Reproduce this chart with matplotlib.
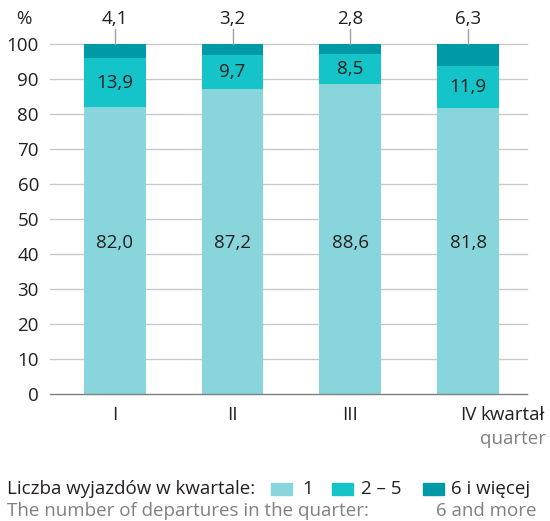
import matplotlib
matplotlib.use("Agg")
import matplotlib.pyplot as plt
from matplotlib.patches import Rectangle

quarters = ["I", "II", "III", "IV"]
share_1 = [82.0, 87.2, 88.6, 81.8]
share_2_5 = [13.9, 9.7, 8.5, 11.9]
share_6plus = [4.1, 3.2, 2.8, 6.3]
yticks = [0, 10, 20, 30, 40, 50, 60, 70, 80, 90, 100]
legend_labels = ["1", "2 – 5", "6 i więcej"]

c1, c2, c3 = "#88d6db", "#14c4c9", "#0099a8"
txt = "#231f20"
grey = "#808080"

plt.rcParams['font.family'] = ['Open Sans', 'DejaVu Sans']
fs = 13.5

def fmt(v):
    return f"{v:.1f}".replace(".", ",")

fig = plt.figure(figsize=(5.5, 5.21), dpi=100)
W, H = 550, 521
ax = fig.add_axes([50 / W, (H - 394) / H, (527 - 50) / W, (394 - 44) / H])
x = list(range(len(quarters)))
bw = 0.525
ax.bar(x, share_1, width=bw, color=c1, zorder=2)
ax.bar(x, share_2_5, width=bw, bottom=share_1, color=c2, zorder=2)
b2 = [a + b for a, b in zip(share_1, share_2_5)]
ax.bar(x, share_6plus, width=bw, bottom=b2, color=c3, zorder=2)

ax.set_xlim(-0.55, 3.5)
ax.set_ylim(0, 100)
for s in ax.spines.values():
    s.set_visible(False)
for yv in yticks[1:]:
    ax.axhline(yv, color="#c8c8c8", lw=1, zorder=1, clip_on=False)
ax.axhline(0, color="#7f7f7f", lw=1, zorder=3, clip_on=False)
ax.set_yticks(yticks)
ax.set_yticklabels([str(v) for v in yticks], fontsize=fs, color=txt)
ax.tick_params(axis="y", length=0, pad=8)
ax.set_xticks(x)
ax.set_xticklabels(quarters, fontsize=fs, color=txt)
ax.tick_params(axis="x", length=0, pad=9)

fig.canvas.draw()
lab4 = ax.get_xticklabels()[3]
bb = lab4.get_window_extent(renderer=fig.canvas.get_renderer())
fig.text((bb.x1 + 4) / W, (bb.y0 + bb.y1) / 2 / H, "kwartał", ha="left", va="center",
         fontsize=fs, color=txt)
fig.text(546 / W, 1 - 439 / H, "quarter", ha="right", va="center", fontsize=fs, color=grey)

for i in x:
    ax.text(i, 43, fmt(share_1[i]), ha="center", va="center", fontsize=fs, color=txt, zorder=4)
    ax.text(i, share_1[i] + share_2_5[i] / 2, fmt(share_2_5[i]), ha="center", va="center",
            fontsize=fs, color=txt, zorder=4)
    ax.plot([i, i], [100, 104.3], color="#a0a0a0", lw=1, clip_on=False, zorder=4)
    ax.text(i, 107.0, fmt(share_6plus[i]), ha="center", va="center", fontsize=fs,
            color=txt, clip_on=False)

fig.text(24 / W, 1 - 19 / H, "%", ha="center", va="center", fontsize=fs, color=txt)

# legend
ly = 1 - 489 / H
fig.text(7 / W, ly, "Liczba wyjazdów w kwartale:", ha="left", va="center", fontsize=fs, color=txt)
fig.text(7 / W, 1 - 511 / H, "The number of departures in the quarter:", ha="left", va="center",
         fontsize=fs, color=grey)
patch_x = [271, 332, 423]
text_x = [302, 361, 451]
for px, tx, col, lab in zip(patch_x, text_x, [c1, c2, c3], legend_labels):
    fig.add_artist(Rectangle((px / W, 1 - 495 / H), 21 / W, 12 / H, color=col,
                             transform=fig.transFigure))
    fig.text(tx / W, ly, lab, ha="left", va="center", fontsize=fs, color=txt)
fig.text(537 / W, 1 - 511 / H, "6 and more", ha="right", va="center", fontsize=fs, color=grey)

fig.savefig("out.png", dpi=100)
